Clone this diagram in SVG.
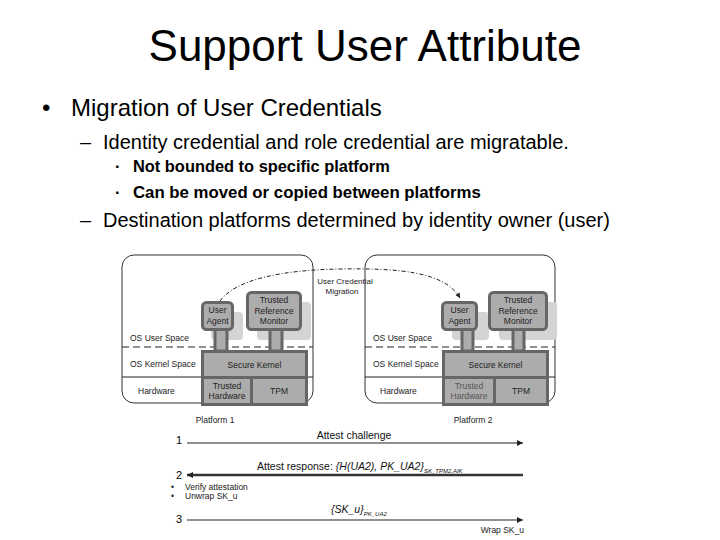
<svg xmlns="http://www.w3.org/2000/svg" width="720" height="540" viewBox="0 0 720 540">
<defs>
<style>
text{font-family:"Liberation Sans",Arial,sans-serif;fill:#000}
.sm{font-size:8.5px;fill:#222}
.bx{font-size:8.5px;fill:#222;text-anchor:middle}
.plat{fill:#fff;stroke:#333;stroke-width:1}
.blk{fill:#acacac;stroke:#666;stroke-width:3}
.shd{fill:#d4d4d4}
.dash{stroke:#222;stroke-width:1;stroke-dasharray:7 4}
.sol{stroke:#222;stroke-width:1}
.seq{font-size:10.5px;fill:#111}
</style>
<marker id="ar" viewBox="0 0 10 10" refX="10" refY="5" markerWidth="9" markerHeight="6" markerUnits="userSpaceOnUse" orient="auto"><path d="M0,0 L10,5 L0,10 Z" fill="#222"/></marker>
<marker id="ar2" viewBox="0 0 10 10" refX="10" refY="5" markerWidth="9" markerHeight="6" markerUnits="userSpaceOnUse" orient="auto-start-reverse"><path d="M0,0 L10,5 L0,10 Z" fill="#222"/></marker>
<marker id="am" viewBox="0 0 10 10" refX="10" refY="5" markerWidth="6" markerHeight="5" markerUnits="userSpaceOnUse" orient="auto"><path d="M0,0 L10,5 L0,10 Z" fill="#222"/></marker>
</defs>
<rect width="720" height="540" fill="#fff"/>

<g id="slide-text">
<text x="365" y="61" font-size="44" text-anchor="middle">Support User Attribute</text>
<text x="42" y="116" font-size="24">•</text>
<text x="71" y="116" font-size="24">Migration of User Credentials</text>
<text x="80" y="149" font-size="20">–</text>
<text x="103" y="149" font-size="20">Identity credential and role credential are migratable.</text>
<text x="115" y="172" font-size="16.5" font-weight="bold">·</text>
<text x="133" y="172" font-size="16.4" font-weight="bold">Not bounded to specific platform</text>
<text x="115" y="198" font-size="16.5" font-weight="bold">·</text>
<text x="133" y="198" font-size="16.8" font-weight="bold">Can be moved or copied between platforms</text>
<text x="80" y="227" font-size="20">–</text>
<text x="103" y="227" font-size="20">Destination platforms determined by identity owner (user)</text>
</g>

<g id="platform1">
<rect class="plat" x="122" y="255" width="191" height="148" rx="12"/>
<line class="dash" x1="122" y1="347" x2="313" y2="347"/>
<line class="sol" x1="122" y1="377" x2="313" y2="377"/>
<text class="sm" x="130" y="341">OS User Space</text>
<text class="sm" x="130" y="367">OS Kernel Space</text>
<text class="sm" x="138" y="394">Hardware</text>
<rect class="shd" x="211" y="312" width="32" height="28" rx="4"/>
<rect class="shd" x="257" y="302" width="54" height="38" rx="4"/>
<rect class="blk" x="215" y="329" width="12" height="22" stroke-width="2"/>
<rect class="blk" x="270" y="329" width="12" height="22" stroke-width="2"/>
<g id="p1-ua"><rect class="blk" x="202.5" y="302.5" width="30" height="27" rx="4" fill="#b8b8b8"/>
<text class="bx" x="217.5" y="313">User</text><text class="bx" x="217.5" y="324">Agent</text></g>
<g id="p1-trm"><rect class="blk" x="247.5" y="292.5" width="53" height="37" rx="4" fill="#b8b8b8"/>
<text class="bx" x="274" y="303">Trusted</text><text class="bx" x="274" y="314">Reference</text><text class="bx" x="274" y="324">Monitor</text></g>
<g id="p1-kernel"><rect class="blk" x="202.5" y="351.5" width="104" height="26"/>
<text class="bx" x="254.5" y="368">Secure Kernel</text></g>
<g id="p1-th"><rect class="blk" x="202.5" y="377.5" width="49" height="27"/>
<text class="bx" x="227" y="388.5">Trusted</text><text class="bx" x="227" y="399">Hardware</text></g>
<g id="p1-tpm"><rect class="blk" x="251.5" y="377.5" width="55" height="27"/>
<text class="bx" x="279" y="394">TPM</text></g>
<text class="sm" x="215" y="423" text-anchor="middle">Platform 1</text>
</g>

<g id="platform2">
<rect class="plat" x="365" y="255" width="190" height="148" rx="12"/>
<line class="dash" x1="365" y1="347" x2="555" y2="347"/>
<line class="sol" x1="365" y1="377" x2="555" y2="377"/>
<text class="sm" x="373" y="341">OS User Space</text>
<text class="sm" x="373" y="367">OS Kernel Space</text>
<text class="sm" x="380" y="394">Hardware</text>
<rect class="shd" x="452" y="312" width="37" height="28" rx="4"/>
<rect class="shd" x="499" y="302" width="58" height="38" rx="4"/>
<rect class="blk" x="462" y="329" width="11" height="22" stroke-width="2"/>
<rect class="blk" x="513" y="329" width="11" height="22" stroke-width="2"/>
<g id="p2-ua"><rect class="blk" x="442.5" y="302.5" width="34" height="27" rx="4" fill="#b8b8b8"/>
<text class="bx" x="459.5" y="313">User</text><text class="bx" x="459.5" y="324">Agent</text></g>
<g id="p2-trm"><rect class="blk" x="489.5" y="292.5" width="57" height="37" rx="4" fill="#b8b8b8"/>
<text class="bx" x="518" y="303">Trusted</text><text class="bx" x="518" y="314">Reference</text><text class="bx" x="518" y="324">Monitor</text></g>
<g id="p2-kernel"><rect class="blk" x="443.5" y="351.5" width="104" height="26"/>
<text class="bx" x="495.5" y="368">Secure Kernel</text></g>
<g id="p2-th"><rect class="blk" x="443.5" y="377.5" width="51" height="27"/>
<text class="bx" x="469" y="388.5" style="fill:#555">Trusted</text><text class="bx" x="469" y="399" style="fill:#555">Hardware</text></g>
<g id="p2-tpm"><rect class="blk" x="494.5" y="377.5" width="53" height="27"/>
<text class="bx" x="521" y="394">TPM</text></g>
<text class="sm" x="473" y="423" text-anchor="middle">Platform 2</text>
</g>

<g id="connectors" fill="none">
<path d="M220,301 C235,280 280,270 340,269 C400,268 445,272 460,298" stroke="#222" stroke-width="1" stroke-dasharray="4 2 1 2" marker-end="url(#am)"/>
<line x1="187" y1="443" x2="523" y2="443" stroke="#222" stroke-width="1.2" marker-end="url(#ar)"/>
<line x1="187" y1="475" x2="523" y2="475" stroke="#333" stroke-width="2.5" marker-start="url(#ar2)"/>
<line x1="187" y1="520" x2="523" y2="520" stroke="#222" stroke-width="1.2" marker-end="url(#ar)"/>
</g>

<g id="labels">
<text class="sm" x="345" y="284" text-anchor="middle" style="font-size:8px">User Credential</text>
<text class="sm" x="342" y="294" text-anchor="middle" style="font-size:8px">Migration</text>
<text x="176" y="444" font-size="11">1</text>
<text x="176" y="479" font-size="11">2</text>
<text x="176" y="523" font-size="11">3</text>
<text class="seq" x="354" y="439" text-anchor="middle">Attest challenge</text>
<text class="seq" x="257" y="470">Attest response: <tspan font-style="italic">{H(UA2), PK_UA2}</tspan><tspan font-size="6" dy="3" font-style="italic">SK_TPM2,AIK</tspan></text>
<text class="sm" x="171" y="490">•</text>
<text class="sm" x="185" y="490">Verify attestation</text>
<text class="sm" x="171" y="499">•</text>
<text class="sm" x="185" y="499">Unwrap SK_u</text>
<text class="seq" x="331" y="513" font-style="italic">{SK_u}<tspan font-size="6" dy="3">PK_UA2</tspan></text>
<text class="sm" x="524" y="533" text-anchor="end">Wrap SK_u</text>
</g>
</svg>
